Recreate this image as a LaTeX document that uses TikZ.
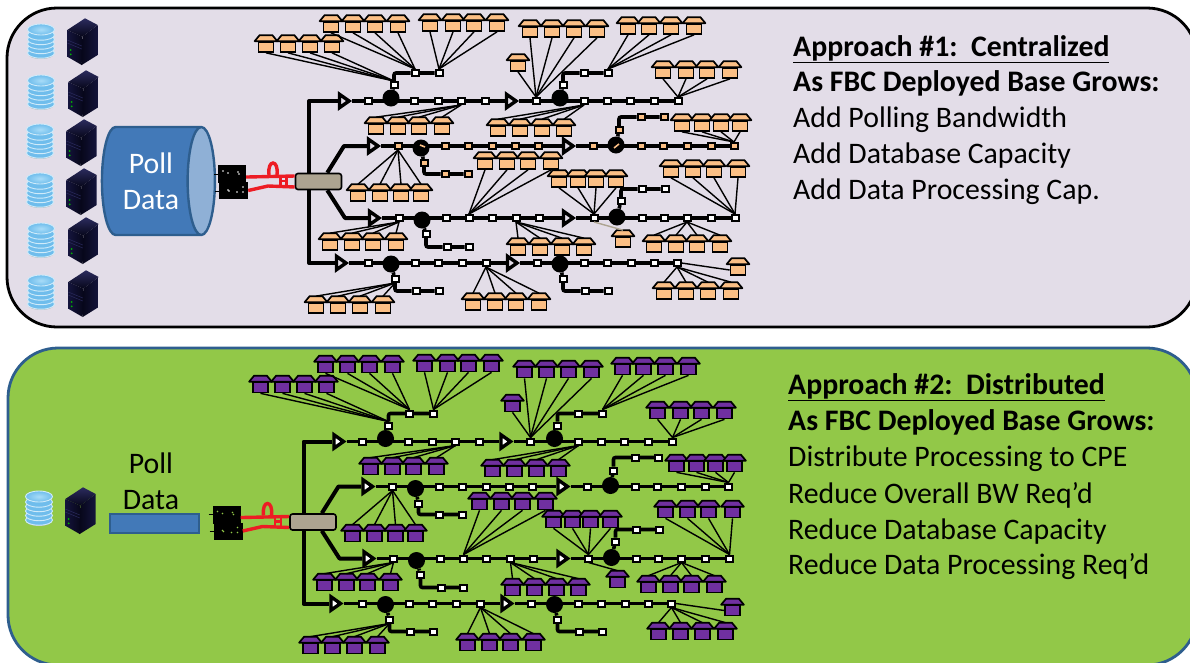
\documentclass[tikz,border=0pt]{standalone}
\usepackage{fontspec}
\setmainfont{Carlito}
\usetikzlibrary{shapes.geometric, positioning}

\definecolor{lavpanel}{HTML}{E3DDE8}
\definecolor{grnpanel}{HTML}{92C848}
\definecolor{bluerim}{HTML}{2E5E8E}
\definecolor{bluecan}{HTML}{4279B8}
\definecolor{bluecap}{HTML}{8FB0D6}
\definecolor{fibred}{HTML}{ED1C24}
\definecolor{spltan}{HTML}{ADA491}
\definecolor{orghouse}{HTML}{FBBF85}
\definecolor{prphouse}{HTML}{7030A0}
\definecolor{dbdisc}{HTML}{6FBDEC}
\definecolor{dbrim}{HTML}{CFEBFA}
\definecolor{dbtop}{HTML}{A8DCF8}
\definecolor{srvdark}{HTML}{07071A}
\definecolor{srvmid}{HTML}{14143C}
\definecolor{srvtop}{HTML}{2B2B5E}

% one row of houses, standing above or below their tap
\newcommand{\housesabove}[3]{%
  \foreach \hx in {#3} {
    \node[house] (h\hx-#1) at (\hx,#2) {};
    \draw[roof] ([xshift=-3pt]h\hx-#1.north west) -- ([xshift=2pt,yshift=6pt]h\hx-#1.north west) -- ([xshift=-2pt,yshift=6pt]h\hx-#1.north east) -- ([xshift=3pt]h\hx-#1.north east) -- cycle;
    \draw[dropline] (h\hx-#1.south) -- (#1.north);
  }}
\newcommand{\housesbelow}[3]{%
  \foreach \hx in {#3} {
    \node[house] (h\hx-#1) at (\hx,#2) {};
    \draw[roof] ([xshift=-3pt]h\hx-#1.north west) -- ([xshift=2pt,yshift=6pt]h\hx-#1.north west) -- ([xshift=-2pt,yshift=6pt]h\hx-#1.north east) -- ([xshift=3pt]h\hx-#1.north east) -- cycle;
    \draw[dropline] ([yshift=6pt]h\hx-#1.north) -- (#1.south);
  }}

% the whole plant, used by both panels
\newcommand{\fbcplant}[3]{%
\begin{scope}[shift={(#2,#3)}, name prefix=#1-]
  \foreach \tapname/\tapx/\tapy in {a1/368/101, a2/414/101, a3/438/101, a4/461/101, a5/485/101, a6/536/101, a7/584/101, a8/607/101, a9/630/101, a10/654/101, a11/678/101,
    ao1/394/85, ao2/415/73, ao3/439/73, ao4/563/85, ao5/584/73, ao6/608/73,
    c1/399/218, c2/446/218, c3/469/218, c4/492/218, c5/516/218, c6/539/218, c7/594/218, c8/642/218, c9/664/218, c10/687/218, c11/711/218, c12/735/218,
    co1/426/234, co2/447/247, co3/469/247, co4/621/201, co5/642/189, co6/665/189,
    d1/368/263, d2/415/263, d3/438/263, d4/462/263, d5/486/263, d6/537/263, d7/584/263, d8/607/263, d9/631/263, d10/654/263, d11/677/263,
    do1/395/279, do2/416/291, do3/439/291, do4/563/279, do5/585/291, do6/608/291}
    \node[tap] (\tapname) at (\tapx,\tapy) {};
  \foreach \tapname/\tapx/\tapy in {b1/398/146, b2/445/146, b3/468/146, b4/492/146, b5/515/146, b6/538/146, b7/593/146, b8/641/146, b9/663/146, b10/687/146, b11/711/146, b12/734/146,
    bo1/424/163, bo2/445/174, bo3/468/174, bo4/619/130, bo5/641/117, bo6/664/117}
    \node[tap, fill=tapcol] (\tapname) at (\tapx,\tapy) {};
  \foreach \ampname/\ampx/\ampy in {ampa1/343/101, ampa2/510/101, ampc1/373/218, ampc2/567/218, ampd1/340/263, ampd2/511/263, ampb1/372/146, ampb2/567/146}
    \node[amp] (\ampname) at (\ampx,\ampy) {};
  % trunk and feeders
  \coordinate (trunktop) at (309,101);
  \coordinate (trunkbot) at (309,263);
  \coordinate (kinkb) at (344,146);
  \coordinate (kinkc) at (345,218);
  \draw[trunk] (ampa1) -- (trunktop) -- (trunkbot) -- (ampd1);
  \node[splitbox] (spl) at (318.5,181.5) {};
  \draw[trunk] (spl.45) -- (kinkb) -- (ampb1);
  \draw[trunk] (spl.-45) -- (kinkc) -- (ampc1);
  \draw[bus] (ampa1) -- (a1) -- (a2) -- (a3) -- (a4) -- (a5) -- (ampa2) -- (a6) -- (a7) -- (a8) -- (a9) -- (a10) -- (a11);
  \draw[bus] (ampb1) -- (b1) -- (b2) -- (b3) -- (b4) -- (b5) -- (b6) -- (ampb2) -- (b7) -- (b8) -- (b9) -- (b10) -- (b11) -- (b12);
  \draw[bus] (ampc1) -- (c1) -- (c2) -- (c3) -- (c4) -- (c5) -- (c6) -- (ampc2) -- (c7) -- (c8) -- (c9) -- (c10) -- (c11) -- (c12);
  \draw[bus] (ampd1) -- (d1) -- (d2) -- (d3) -- (d4) -- (d5) -- (ampd2) -- (d6) -- (d7) -- (d8) -- (d9) -- (d10) -- (d11);
  \foreach \cpname/\cpx/\cpy in {cpa1/391/98, cpa2/560/98, cpb1/421/148, cpb2/616/145, cpc1/422/220, cpc2/617/217, cpd1/391/264, cpd2/560/264}
    \node[coupler] (\cpname) at (\cpx,\cpy) {};
  \draw[wedge] ([shift={(-1pt,3pt)}]cpb1.center) -- ([shift={(4pt,1pt)}]cpb1.center);
  \draw[wedge] ([shift={(-2pt,-3pt)}]cpb2.center) -- ([shift={(3pt,1pt)}]cpb2.center);
  % side legs off the couplers
  \draw[bus, rounded corners=2pt] (cpa1) -- (ao1) |- (ao2) -- (ao3);
  \draw[bus, rounded corners=2pt] (cpa2) -- (ao4) |- (ao5) -- (ao6);
  \draw[bus, rounded corners=2pt] (cpb1) -- (bo1) |- (bo2) -- (bo3);
  \draw[bus, rounded corners=2pt] (cpb2) -- (bo4) |- (bo5) -- (bo6);
  \draw[bus, rounded corners=2pt] (cpc1) -- (co1) |- (co2) -- (co3);
  \draw[bus, rounded corners=2pt] (cpc2) -- (co4) |- (co5) -- (co6);
  \draw[bus, rounded corners=2pt] (cpd1) -- (do1) |- (do2) -- (do3);
  \draw[bus, rounded corners=2pt] (cpd2) -- (do4) |- (do5) -- (do6);
  % houses
  \housesabove{ao1}{44}{266,288,310,332}
  \housesabove{ao2}{24}{331,353,375,398}
  \housesabove{ao3}{23}{430,453,474,497}
  \housesabove{a6}{29}{530,552,574,597}
  \housesabove{a6}{63}{518}
  \housesabove{ao6}{26}{628,649,671,694}
  \housesabove{a11}{70}{663,686,707,730}
  \housesbelow{a4}{126}{376,398,419,442}
  \housesbelow{a7}{128}{498,520,542,564}
  \housesabove{b12}{123}{682,702,721,740}
  \housesbelow{b1}{193}{358,380,401,421}
  \housesabove{c3}{161}{485,507,528,551}
  \housesabove{c7}{179}{559,578,596,616}
  \housesabove{c12}{169}{671,693,714,738}
  \housesbelow{c1}{242}{330,352,373,396}
  \housesbelow{c5}{247}{518,540,562,584}
  \housesbelow{c10}{244}{654,676,697,720}
  \housesbelow{do1}{305}{316,338,360,383}
  \housesbelow{d5}{302}{473,495,516,539}
  \housesbelow{d11}{291}{664,686,708,731}
  \begin{scope}[dropline/.append style={draw=fadecol}]
    \housesbelow{c7}{239}{623}
  \end{scope}
  \node[house] (hside) at (738,267) {};
  \draw[roof] ([xshift=-3pt]hside.north west) -- ([xshift=2pt,yshift=6pt]hside.north west) -- ([xshift=-2pt,yshift=6pt]hside.north east) -- ([xshift=3pt]hside.north east) -- cycle;
  \draw[dropline] (hside.west) -- (d11.east);
  % head end boxes and the red jumpers
  \draw[line width=.4pt] (214,174) -- (218,174);
  \draw[line width=.4pt] (215,191) -- (219,191);
  \node[headbox, minimum width=28pt, minimum height=18pt] (hb1) at (232,174) {};
  \node[headbox, minimum width=29pt, minimum height=17pt] (hb2) at (233.5,190.5) {};
  \foreach \px/\py in {223/171, 228/173, 238/172, 239/174, 228/190, 229/191, 237/192, 243/187, 243/192}
    \fill[speckcol] (\px,\py) circle (.8);
  \coordinate (fibk) at (268,186);
  \draw[fiber] (hb1.-12) -- (spl.167);
  \draw[fiber] (hb2.east) -- (fibk) -- (spl.193);
  \draw[fiber] (269,175) .. controls (267,159) and (279,159) .. (277,175);
  \draw[fiber, line width=2.6pt] (280.5,175) -- (280.5,187);
  \draw[fiber, line width=2.6pt] (286.5,175) -- (286.5,187);
  \draw[fiber, line width=2.6pt] (280.5,181) -- (286.5,181);
\end{scope}}

\begin{document}
\begin{tikzpicture}[%
  x=1pt, y=-1pt,%
  panel/.style={rounded corners=50pt, line width=2.8pt},%
  tap/.style={rectangle, draw=black, fill=white, line width=2pt, minimum width=7pt, minimum height=6pt, inner sep=0pt},%
  amp/.style={isosceles triangle, isosceles triangle apex angle=70, draw=black, fill=ampcol, line width=3.4pt, minimum width=12pt, minimum height=9.5pt, inner sep=0pt},%
  coupler/.style={circle, fill=black, minimum size=17pt, inner sep=0pt},%
  wedge/.style={draw=wedgecol, line width=1.6pt},%
  trunk/.style={draw=black, line width=4pt, line join=round},%
  bus/.style={draw=black, line width=3.6pt},%
  dropline/.style={draw=black, line width=1.4pt},%
  fiber/.style={draw=fibred, line width=3.4pt},%
  house/.style={rectangle, draw=black, fill=housecol, line width=1.7pt, minimum width=15pt, minimum height=10pt, inner sep=0pt, yshift=-3pt},%
  roof/.style={draw=black, fill=housecol, line width=1.7pt, line join=round},%
  splitbox/.style={rectangle, rounded corners=2.5pt, draw=black, fill=spltan, line width=1.6pt, minimum width=46pt, minimum height=16pt, inner sep=0pt},%
  headbox/.style={rectangle, fill=black, inner sep=0pt},%
  headline/.style={anchor=base west, inner sep=0pt, font=\fontsize{29.8}{30}\selectfont\bfseries},%
  bodyline/.style={anchor=base west, inner sep=0pt, font=\fontsize{29.8}{30}\selectfont},%
  server/.pic={
    \shade[left color=srvmid, right color=srvdark] (-14.7,-11) -- (.3,-4.3) -- (-.3,24) -- (-14.7,15.7) -- cycle;
    \shade[left color=srvdark, right color=srvmid] (.3,-4.3) -- (15.7,-16) -- (15.7,14) -- (-.3,24) -- cycle;
    \shade[top color=srvtop, bottom color=srvdark] (-14.7,-11) -- (3,-22.7) -- (15.7,-16) -- (.3,-4.3) -- cycle;
    \draw[srvtop, line width=.5pt] (-14.7,-1) -- (-.2,5);
    \draw[srvtop, line width=.5pt] (-14.7,2) -- (-.2,8);
    \fill[green!70!black] (-11.3,9) circle (1);
    \fill[green!70!black] (-11.3,13.3) circle (1);
  },%
  dbstack/.pic={
    \fill[black!30] (0,13.4) ellipse [x radius=12.5, y radius=4.6];
    \foreach \dy in {12,7.5,3,-1.5,-6}
      \fill[dbdisc, draw=dbrim, line width=.9pt] (0,\dy) ellipse [x radius=13.5, y radius=5.2];
    \shade[inner color=dbtop, outer color=dbdisc, draw=dbrim, line width=.9pt] (0,-11.5) ellipse [x radius=13.5, y radius=5.5];
  }%
]
  \useasboundingbox (0,0) rectangle (1190,662);
  \clip (0,0) rectangle (1190,662);
  % top panel
  \draw[panel, draw=black, fill=lavpanel] (7,8) rectangle (1197,327);
  \foreach \dbx/\dby [count=\di] in {41/41, 41/92, 40/141, 40/190, 41/240, 41/292}
    \pic (db\di) at (\dbx,\dby) {dbstack};
  \foreach \srx/\sry [count=\si] in {82/41, 83/93, 81/142, 81/191, 83/240, 83/293}
    \pic (srv\si) at (\srx,\sry) {server};
  \node[cylinder, shape border rotate=0, aspect=.48, draw=bluerim, line width=2.4pt, cylinder uses custom fill, cylinder body fill=bluecan, cylinder end fill=bluecap, minimum width=108pt, minimum height=113pt, inner sep=0pt, align=center, text=white, font=\fontsize{29.8}{36}\selectfont] (polla) at (151,181) {Poll\\Data};
  {\colorlet{housecol}{orghouse}\colorlet{tapcol}{orghouse}\colorlet{ampcol}{lavpanel}\colorlet{wedgecol}{orghouse}\colorlet{speckcol}{white}\colorlet{fadecol}{spltan}
  \fbcplant{fa}{0}{0}}
  \node[headline] (ta1) at (793,56) {\underline{Approach \#1:\ \ Centralized}};
  \node[headline] (ta2) at (793,91) {As FBC Deployed Base Grows:};
  \node[bodyline] (ta3) at (793,127) {Add Polling Bandwidth};
  \node[bodyline] (ta4) at (793,163) {Add Database Capacity};
  \node[bodyline] (ta5) at (793,199) {Add Data Processing Cap.};
  % bottom panel
  \draw[panel, draw=bluerim, fill=grnpanel] (8,348) rectangle (1197,665);
  \pic (db7) at (39,508) {dbstack};
  \pic (srv7) at (80,510) {server};
  \node[cylinder, shape border rotate=0, aspect=1, draw=bluerim, line width=2.4pt, cylinder uses custom fill, cylinder body fill=bluecan, cylinder end fill=bluecan, minimum width=19pt, minimum height=89pt, inner sep=0pt] (pollb) at (154,523.5) {};
  \node[bodyline, anchor=center, align=center, font=\fontsize{29.8}{36}\selectfont] (pollt) at (151,481) {Poll\\Data};
  {\colorlet{housecol}{prphouse}\colorlet{tapcol}{white}\colorlet{ampcol}{white}\colorlet{wedgecol}{black}\colorlet{speckcol}{grnpanel}\colorlet{fadecol}{black}
  \fbcplant{fb}{-5.5}{340.5}}
  \node[headline] (tb1) at (788,394) {\underline{Approach \#2:\ \ Distributed}};
  \node[headline] (tb2) at (788,430) {As FBC Deployed Base Grows:};
  \node[bodyline] (tb3) at (788,466) {Distribute Processing to CPE};
  \node[bodyline] (tb4) at (788,503) {Reduce Overall BW Req’d};
  \node[bodyline] (tb5) at (788,539) {Reduce Database Capacity};
  \node[bodyline] (tb6) at (788,574) {Reduce Data Processing Req’d};
\end{tikzpicture}
\end{document}
